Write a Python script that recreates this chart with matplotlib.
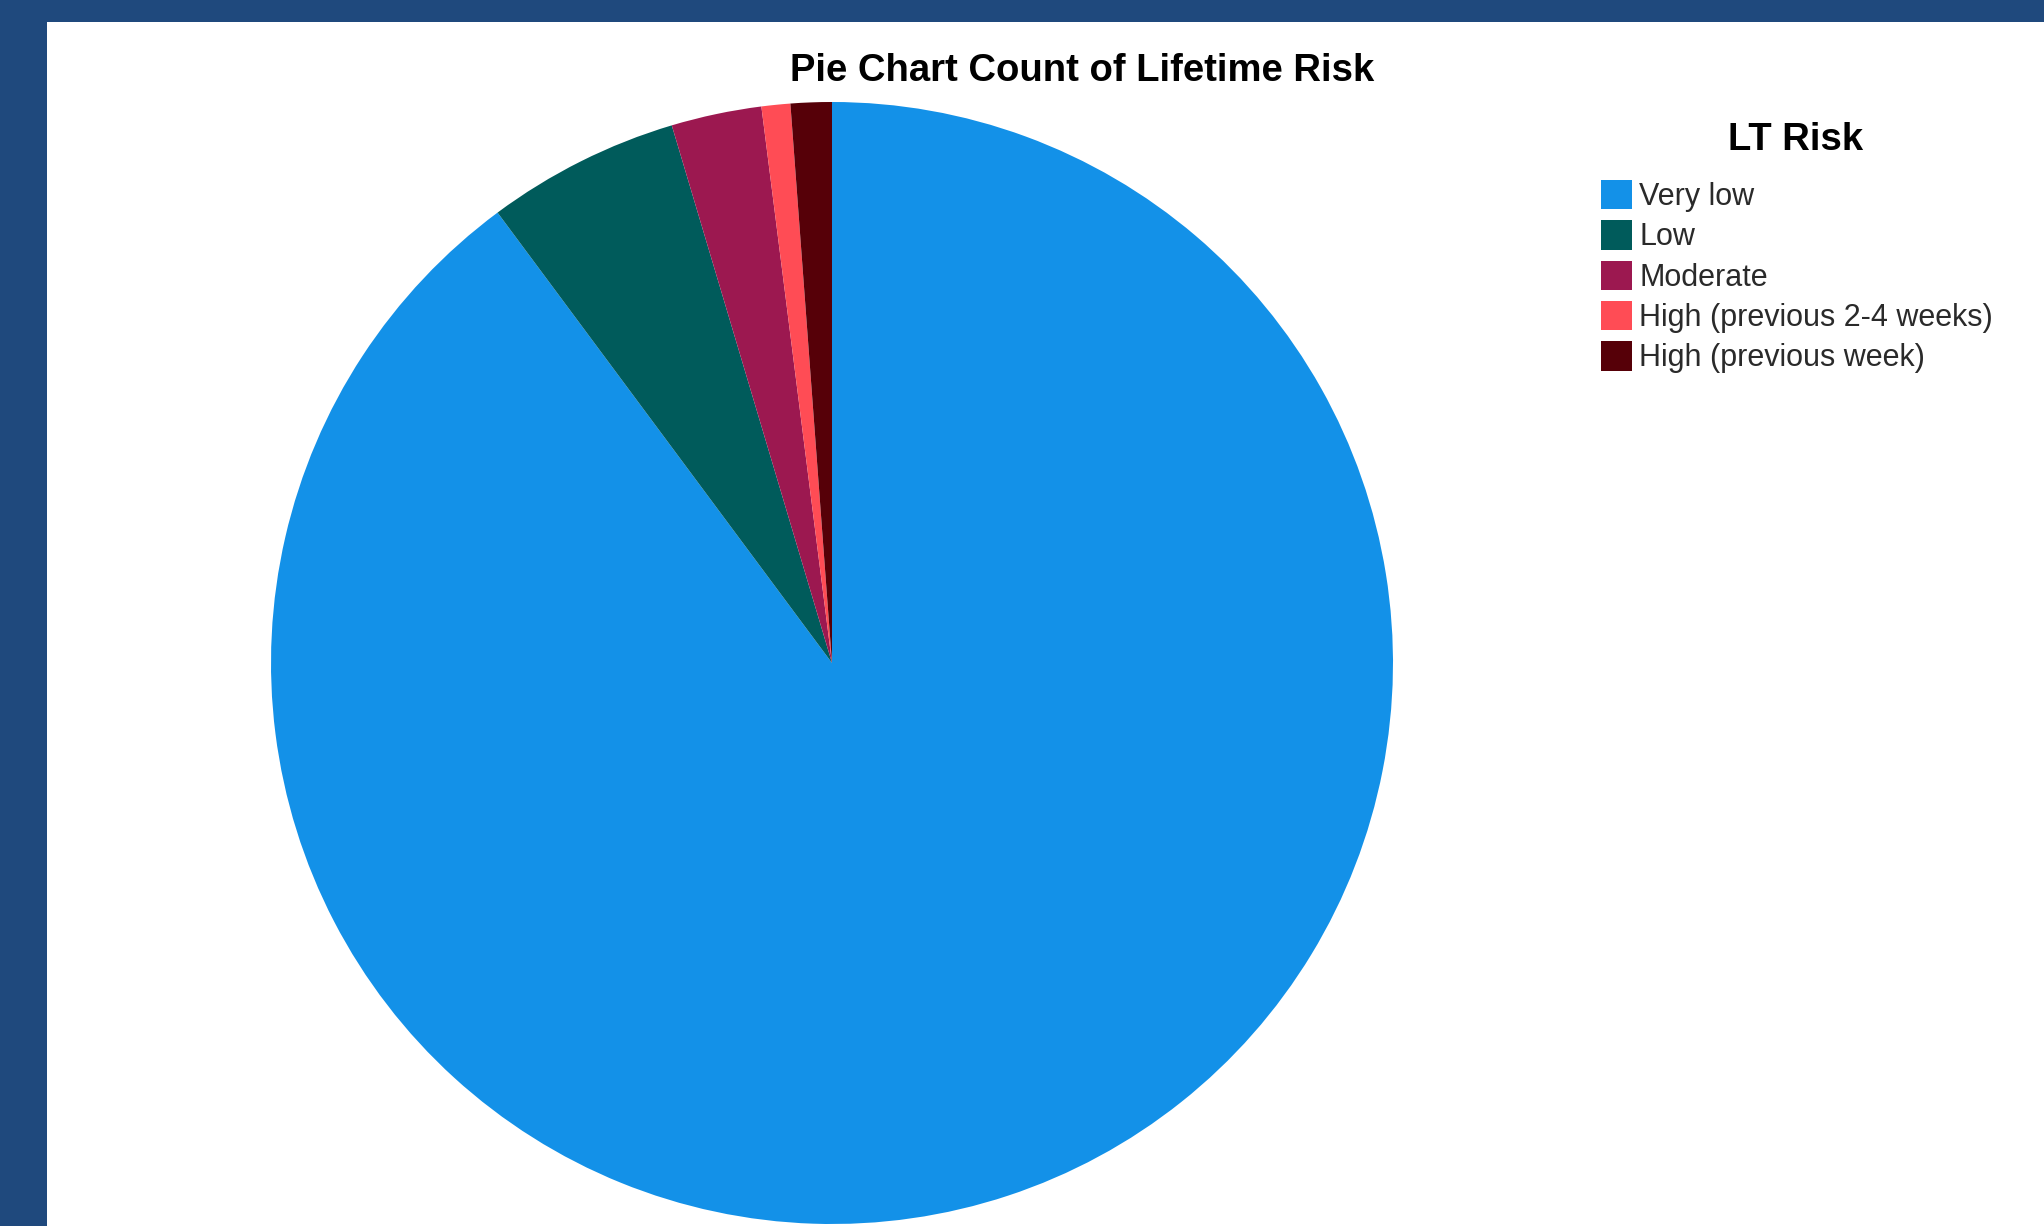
import matplotlib
matplotlib.use("Agg")
import matplotlib.pyplot as plt
from matplotlib.patches import Rectangle

# counts
categories = ["Very low", "Low", "Moderate", "High (previous 2-4 weeks)", "High (previous week)"]
counts = [760, 47, 22, 7, 10]
colors = ["#1391E8", "#005B5B", "#9C1850", "#FF4C55", "#560008"]

W, H = 2044, 1226
plt.rcParams['font.family'] = ['Liberation Sans', 'DejaVu Sans']

fig = plt.figure(figsize=(W / 100, H / 100), dpi=100, facecolor="#1F497D")
# white panel inside the blue frame
fig.patches.append(Rectangle((47 / W, 0), 1 - 47 / W, 1 - 22 / H,
                             transform=fig.transFigure, facecolor="white",
                             edgecolor="none", zorder=-5))

cx, cy, r = 832, 663, 561
ax = fig.add_axes([(cx - r) / W, (H - cy - r) / H, 2 * r / W, 2 * r / H])
ax.set_zorder(2)
wedges, _ = ax.pie(counts, colors=colors, startangle=90, counterclock=False,
                   radius=1, wedgeprops=dict(linewidth=0))
ax.set_xlim(-1, 1)
ax.set_ylim(-1, 1)
ax.set_aspect("equal")
ax.axis("off")

fig.text(1082 / W, 1 - 71 / H, "Pie Chart Count of Lifetime Risk", ha="center", va="center",
         fontsize=27.5, fontweight="bold", color="black")

fig.text(1796 / W, 1 - 140 / H, "LT Risk", ha="center", va="center",
         fontsize=27.5, fontweight="bold", color="black")

leg = fig.legend(wedges, categories, loc="upper left", bbox_to_anchor=(1601 / W, 1 - 180 / H),
                 frameon=False, fontsize=22, borderpad=0, borderaxespad=0,
                 handlelength=1.0, handleheight=1.1, handletextpad=0.25, labelspacing=0.27)
for t in leg.get_texts():
    t.set_color("#2a2a2a")

fig.savefig("out.png", dpi=100, facecolor=fig.get_facecolor())
